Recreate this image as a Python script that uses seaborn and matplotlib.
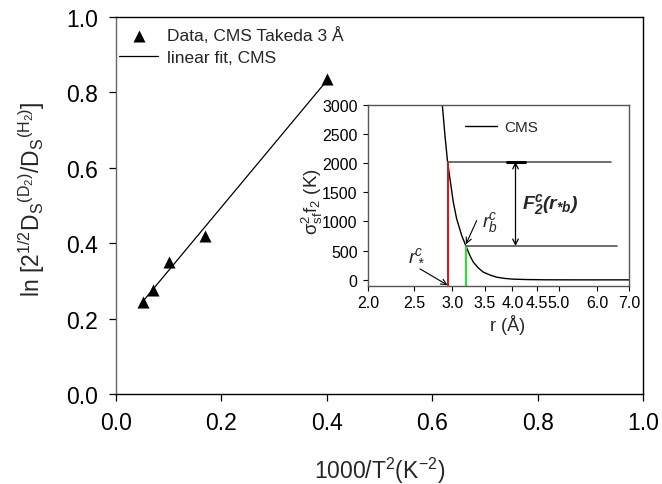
import numpy as np
import pandas as pd
import matplotlib
matplotlib.use("Agg")
import matplotlib.pyplot as plt
import seaborn as sns
from matplotlib.ticker import FixedLocator, FixedFormatter, NullLocator

# Main panel: isotope ratio of self-diffusion vs inverse squared temperature
inv_t2 = [0.051, 0.0694, 0.100, 0.1687, 0.400]
ln_ratio = [0.243, 0.276, 0.349, 0.420, 0.836]
main_ticks = [0.0, 0.2, 0.4, 0.6, 0.8, 1.0]

# Inset: sigma_sf^2 f_2 as a function of separation r
r_vals = [2.857, 2.894, 2.93, 3.012, 3.061, 3.136, 3.20, 3.26, 3.316, 3.40,
          3.479, 3.60, 3.709, 3.85, 4.017, 4.3, 4.7, 5.5, 7.0]
pot_vals = [3000, 2471, 2020, 1330, 1045, 759, 580, 420, 303, 200,
            132, 80, 46, 25, 12, 5, 1, 0, 0]
r_ticks = [2.0, 2.5, 3.0, 3.5, 4.0, 4.5, 5.0, 6.0, 7.0]
pot_ticks = [0, 500, 1000, 1500, 2000, 2500, 3000]

# Characteristic separations and levels
r_star, r_b = 2.93, 3.20
level_star, level_b = 2020, 580
level_star_end, level_b_end = 6.43, 6.6
gap_r = 4.06

sns.set_style("ticks")
plt.rcParams["font.family"] = ["Liberation Sans", "DejaVu Sans"]
plt.rcParams["mathtext.default"] = "regular"

fig = plt.figure(figsize=(6.62, 4.85), dpi=100)
ax = fig.add_axes([116 / 662, 1 - 395 / 485, 527 / 662, 377 / 485])

main_df = pd.DataFrame({"x": inv_t2, "y": ln_ratio})
sns.scatterplot(data=main_df, x="x", y="y", ax=ax, marker="^", s=75,
                color="black", edgecolor="black", linewidth=0,
                label="Data, CMS Takeda 3 Å", zorder=3)

slope, intercept = np.polyfit(inv_t2, ln_ratio, 1)
fit_x = np.array([min(inv_t2), max(inv_t2)])
fit_df = pd.DataFrame({"x": fit_x, "y": slope * fit_x + intercept})
sns.lineplot(data=fit_df, x="x", y="y", ax=ax, color="black", lw=0.9,
             label="linear fit, CMS")

ax.set_xlim(0, 1)
ax.set_ylim(0, 1)
ax.xaxis.set_major_locator(FixedLocator(main_ticks))
ax.yaxis.set_major_locator(FixedLocator(main_ticks))
ax.xaxis.set_major_formatter(FixedFormatter([f"{t:.1f}" for t in main_ticks]))
ax.yaxis.set_major_formatter(FixedFormatter([f"{t:.1f}" for t in main_ticks]))
ax.tick_params(axis="both", direction="out", length=5, width=0.9,
               labelsize=16.5, colors="black")
ax.tick_params(axis="y", pad=8)
ax.tick_params(axis="x", pad=7)
for side in ["top", "right", "bottom"]:
    ax.spines[side].set_color("black")
    ax.spines[side].set_linewidth(1.0)
ax.spines["left"].set_color("#666666")
ax.spines["left"].set_linewidth(1.0)

ax.set_xlabel(r"1000/T$^2$(K$^{-2}$)", fontsize=16.5)
ax.set_ylabel(r"ln [2$^{1/2}$D$_S$$^{(D_2)}$/D$_S$$^{(H_2)}$]", fontsize=16.5)
ax.xaxis.set_label_coords(0.5, -0.16)
ax.yaxis.set_label_coords(-0.13, 0.52)

ax.legend(loc="upper left", bbox_to_anchor=(0.0, 0.985), frameon=False,
          fontsize=12.5, handlelength=2.2, handletextpad=0.55,
          labelspacing=0.4, borderpad=0, borderaxespad=0.2)

# Inset panel
axin = fig.add_axes([368 / 662, 1 - 286.7 / 485, 261 / 662, 181 / 485])
curve_df = pd.DataFrame({"r": r_vals, "v": pot_vals})
sns.lineplot(data=curve_df, x="r", y="v", ax=axin, color="black", lw=1.0,
             label="CMS", sort=False)

axin.set_xscale("log")
axin.set_xlim(2.0, 7.0)
axin.set_ylim(-100, 3000)
axin.xaxis.set_major_locator(FixedLocator(r_ticks))
axin.xaxis.set_major_formatter(FixedFormatter([f"{t:.1f}" for t in r_ticks]))
axin.xaxis.set_minor_locator(NullLocator())
axin.yaxis.set_major_locator(FixedLocator(pot_ticks))
axin.yaxis.set_major_formatter(FixedFormatter([str(t) for t in pot_ticks]))
axin.tick_params(axis="both", direction="out", length=3.5, width=0.8,
                 labelsize=11.5, colors="black")
axin.tick_params(axis="y", pad=4)
axin.tick_params(axis="x", pad=3)
for side in axin.spines:
    axin.spines[side].set_color("#555555")
    axin.spines[side].set_linewidth(1.0)

axin.set_xlabel("r (Å)", fontsize=13)
axin.set_ylabel(r"$\sigma_{sf}^{2}$f$_2$ (K)", fontsize=13.5)
axin.xaxis.set_label_coords(0.535, -0.155)
axin.yaxis.set_label_coords(-0.165, 0.47)

axin.legend(loc="center left", bbox_to_anchor=(0.37, 0.875), frameon=False,
            fontsize=11, handlelength=2.1, handletextpad=0.5,
            borderpad=0, borderaxespad=0)

# Marker lines at r*^c and r_b^c
axin.plot([r_star, r_star], [-100, level_star], color="#e01010", lw=1.4)
axin.plot([r_b, r_b], [-100, level_b], color="#33dd33", lw=1.6)
axin.plot([r_star, level_star_end], [level_star, level_star],
          color="#555555", lw=1.2)
axin.plot([r_b, level_b_end], [level_b, level_b], color="#555555", lw=1.2)
axin.plot([3.89, 4.25], [level_star, level_star], color="black", lw=2.2)

axin.annotate("", xy=(gap_r, level_b), xytext=(gap_r, level_star),
              arrowprops=dict(arrowstyle="<->", lw=0.9, color="black",
                              shrinkA=0, shrinkB=0))
axin.text(4.18, 1300, r"F$_2^c$(r$_{*b}$)", fontsize=14, fontweight="bold",
          fontstyle="italic", ha="left", va="center")

axin.text(3.45, 1000, r"r$_b^c$", fontsize=14, fontstyle="italic",
          ha="left", va="center")
axin.annotate("", xy=(r_b, 610), xytext=(3.37, 1015),
              arrowprops=dict(arrowstyle="->", lw=0.8, color="black",
                              shrinkA=0, shrinkB=0))
axin.text(2.53, 450, r"r$_*^c$", fontsize=14, fontstyle="italic",
          ha="center", va="center")
axin.annotate("", xy=(r_star, -90), xytext=(2.567, 188),
              arrowprops=dict(arrowstyle="->", lw=0.8, color="black",
                              shrinkA=0, shrinkB=0))

fig.savefig("out.png", dpi=100)
